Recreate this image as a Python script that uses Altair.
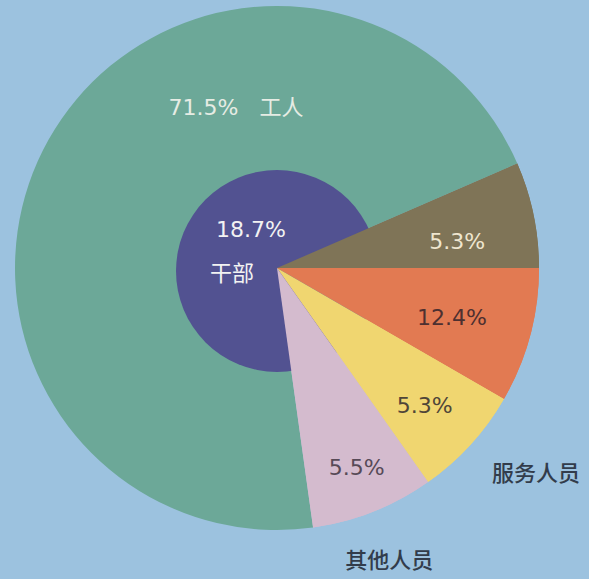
import math
import altair as alt
import pandas as pd

# ---- data ----
slices = ["未标注一", "未标注二", "服务人员", "其他人员", "工人"]
pct_labels = ["5.3%", "12.4%", "5.3%", "5.5%", "71.5%"]
drawn_share = [6.53, 8.33, 6.89, 7.58, 70.67]   # angular share as drawn (%)
inner_name = ["干部"]
inner_pct = ["18.7%"]

# ---- styles ----
slice_colors = ["#7f7457", "#e27a52", "#f0d670", "#d4bbce", "#6ca898"]
navy = "#525291"
bg = "#9cc2df"
total = sum(drawn_share)
start = math.radians(66.5)

df = pd.DataFrame({"slice": slices, "share": drawn_share, "pct": pct_labels,
                   "idx": list(range(len(slices)))})
df_inner = pd.DataFrame({"name": inner_name, "pct": inner_pct})

theta_scale = alt.Scale(domain=[0, total], range=[start, start + 2 * math.pi])
color_scale = alt.Scale(domain=slices, range=slice_colors)

base = alt.Chart(df).transform_stack(
    stack="share", groupby=[], as_=["t0", "t1"],
    sort=[alt.SortField("idx", order="ascending")]
)

arc_enc = dict(
    theta=alt.Theta("t0:Q", scale=theta_scale, stack=None),
    theta2="t1:Q",
    color=alt.Color("slice:N", scale=color_scale, legend=None),
)

pie_all = base.mark_arc(outerRadius=262).encode(**arc_enc)
inner = alt.Chart(df_inner).mark_arc(outerRadius=101, yOffset=3, color=navy).encode(
    theta=alt.value(0), theta2=alt.value(2 * math.pi)
)
pie_top = base.transform_filter(alt.datum.slice != "工人").mark_arc(outerRadius=262).encode(**arc_enc)

# label layout: (slice index, radius, angle offset in degrees, colour, text expr)
num_font = "DejaVu Sans, Noto Sans CJK SC"
cjk_font = "Noto Sans CJK SC"
label_layout = [
    (0, 182, 3.5, "#efe6cf", "datum.pct"),
    (1, 182, 1.0, "#4d3030", "datum.pct"),
    (2, 202, 0.6, "#4f4538", "datum.pct"),
    (3, 215, -0.2, "#574a57", "datum.pct"),
    (4, 165, 46.3, "#e6ece4", "datum.pct + '\u00a0\u00a0\u00a0' + datum.slice"),
]
name_layout = [
    (2, 331, -3.9),
    (3, 314, 0.6),
]

layers = [pie_all, inner, pie_top]
for i, r, off, col, expr in label_layout:
    off_share = off / 360.0 * total
    layers.append(
        base.transform_filter(alt.datum.idx == i)
        .transform_calculate(tl=f"(datum.t0 + datum.t1) / 2 + {off_share}", txt=expr)
        .mark_text(radius=r, font=num_font, fontSize=22, color=col,
                   align="center", baseline="middle")
        .encode(theta=alt.Theta("tl:Q", scale=theta_scale, stack=None), text="txt:N")
    )
for i, r, off in name_layout:
    off_share = off / 360.0 * total
    layers.append(
        base.transform_filter(alt.datum.idx == i)
        .transform_calculate(tl=f"(datum.t0 + datum.t1) / 2 + {off_share}")
        .mark_text(radius=r, font=cjk_font, fontSize=22, fontWeight=500, color="#323c4b",
                   align="center", baseline="middle")
        .encode(theta=alt.Theta("tl:Q", scale=theta_scale, stack=None), text="slice:N")
    )

layers.append(
    alt.Chart(df_inner).mark_text(dx=-26, dy=-38, font=num_font, fontSize=22,
                                  color="#f2f2f2", align="center", baseline="middle")
    .encode(text="pct:N")
)
layers.append(
    alt.Chart(df_inner).mark_text(dx=-45, dy=6, font=cjk_font, fontSize=22,
                                  color="#f2f2f2", align="center", baseline="middle")
    .encode(text="name:N")
)

chart = alt.layer(*layers).properties(
    width=554, height=536,
    padding={"left": 0, "top": 0, "right": 35, "bottom": 43},
    autosize=alt.AutoSizeParams(type="none"),
    background=bg,
).configure_view(stroke=None)

chart.save("out.html", embed_options={"renderer": "svg", "actions": False})
